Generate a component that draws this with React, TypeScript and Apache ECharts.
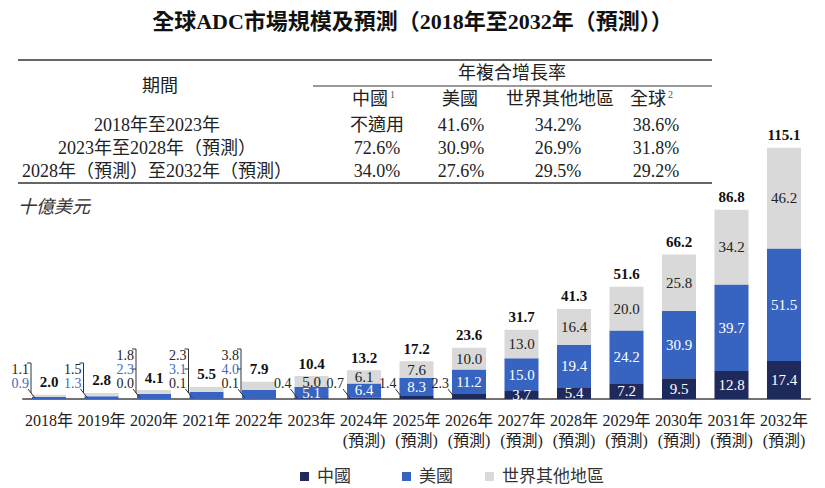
import React, { useEffect, useRef } from 'react';
import * as echarts from 'echarts';

const FONT = "'Liberation Serif', 'Noto Sans CJK TC', serif";

const titleText = '全球ADC市場規模及預測（2018年至2032年（預測））';
const unitText = '十億美元';

const years = ['2018年', '2019年', '2020年', '2021年', '2022年', '2023年', '2024年', '2025年', '2026年', '2027年', '2028年', '2029年', '2030年', '2031年', '2032年'];
const isForecast = [false, false, false, false, false, false, true, true, true, true, true, true, true, true, true];
const forecastTag = '(預測)';

const seriesNames = ['中國', '美國', '世界其他地區'];
const china: (number | null)[] = [null, null, 0.0, 0.1, 0.1, 0.4, 0.7, 1.4, 2.3, 3.7, 5.4, 7.2, 9.5, 12.8, 17.4];
const usa = [0.9, 1.3, 2.3, 3.1, 4.0, 5.1, 6.4, 8.3, 11.2, 15.0, 19.4, 24.2, 30.9, 39.7, 51.5];
const rest = [1.1, 1.5, 1.8, 2.3, 3.8, 5.0, 6.1, 7.6, 10.0, 13.0, 16.4, 20.0, 25.8, 34.2, 46.2];
const totals = [2.0, 2.8, 4.1, 5.5, 7.9, 10.4, 13.2, 17.2, 23.6, 31.7, 41.3, 51.6, 66.2, 86.8, 115.1];

const tableGroupHeader = '年複合增長率';
const tablePeriodHeader = '期間';
const tableColHeaders = ['中國', '美國', '世界其他地區', '全球'];
const tableColNotes = ['1', '', '', '2'];
const tablePeriods = ['2018年至2023年', '2023年至2028年（預測）', '2028年（預測）至2032年（預測）'];
const cagrChina = ['不適用', '72.6%', '34.0%'];
const cagrUS = ['41.6%', '30.9%', '27.6%'];
const cagrRest = ['34.2%', '26.9%', '29.5%'];
const cagrGlobal = ['38.6%', '31.8%', '29.2%'];

const C_CHINA = '#1f2a5c';
const C_US = '#3764c0';
const C_REST = '#d9d9d9';
const C_US_TEXT = '#3f6bbf';
const C_TEXT = '#222222';

const fmt = (v: number | null) => (v == null ? '' : v.toFixed(1));

function buildTable(): any[] {
  const els: any[] = [];
  const txt = (x: number, y: number, text: string, size = 18, align = 'center', extra: any = {}) => ({
    type: 'text',
    x,
    y,
    silent: true,
    style: {
      text,
      fill: C_TEXT,
      font: `${size}px ${FONT}`,
      align,
      verticalAlign: 'middle',
      textAlign: align,
      textVerticalAlign: 'middle',
      ...extra,
    },
  });
  const line = (x1: number, y1: number, x2: number, y2: number, stroke = '#333', w = 1.5) => ({
    type: 'line',
    silent: true,
    shape: { x1, y1, x2, y2 },
    style: { stroke, lineWidth: w },
  });
  els.push(line(18, 60, 712, 60));
  els.push(line(313, 86, 712, 86, '#777', 1.5));
  els.push(line(18, 183, 712, 183));
  els.push(txt(160, 86, tablePeriodHeader));
  els.push(txt(512, 73, tableGroupHeader));
  const headX = [370, 460, 560, 648];
  tableColHeaders.forEach((h, k) => {
    els.push(txt(headX[k], 99, h));
    if (tableColNotes[k]) {
      const w = h.length * 18;
      els.push(txt(headX[k] + w / 2 + 2, 94, tableColNotes[k], 10, 'left', { fill: '#555' }));
    }
  });
  const rowY = [125, 148, 171];
  const colX = [377, 461, 558, 656];
  tablePeriods.forEach((p, r) => {
    els.push(txt(157, rowY[r], p));
    [cagrChina, cagrUS, cagrRest, cagrGlobal].forEach((col, c) => {
      els.push(txt(colX[c], rowY[r], col[r]));
    });
  });
  els.push(txt(18, 207, unitText, 18, 'left', { font: `italic 18px ${FONT}`, fill: '#333' }));
  return els;
}

export default function App() {
  const ref = useRef<HTMLDivElement>(null);
  useEffect(() => {
    if (!ref.current) return;
    const chart = echarts.init(ref.current, undefined, { renderer: 'svg' });
    const labelFont = { fontFamily: FONT, fontSize: 15 };

    const leaderData = years
      .map((_, i) => [i, 0])
      .filter((d) => totals[d[0]] < 10 || ((china[d[0]] ?? 0) < 3 && (china[d[0]] ?? 0) > 0));

    const option: any = {
      animation: false,
      backgroundColor: '#ffffff',
      title: {
        text: titleText,
        left: 'center',
        top: 5,
        textStyle: { fontFamily: FONT, fontSize: 22, fontWeight: 'bold', color: '#111' },
      },
      legend: seriesNames.map((n, k) => ({
        data: [n],
        left: [295, 397, 480][k],
        top: 463,
        icon: 'rect',
        itemWidth: 9,
        itemHeight: 9,
        textStyle: { fontFamily: FONT, fontSize: 17, color: '#333', padding: [0, 0, 0, 3] },
        selectedMode: false,
      })),
      grid: { left: 22.75, right: 14.75, top: 137, bottom: 89 },
      xAxis: {
        type: 'category',
        data: years,
        axisLine: { lineStyle: { color: '#444', width: 1.5 } },
        axisTick: { show: false },
        axisLabel: {
          interval: 0,
          margin: 11,
          fontFamily: FONT,
          fontSize: 16,
          lineHeight: 20,
          color: C_TEXT,
          formatter: (v: string, i: number) => (isForecast[i] ? `${v}\n${forecastTag}` : v),
        },
      },
      yAxis: { type: 'value', min: 0, max: 120, show: false },
      series: [
        {
          name: seriesNames[0],
          type: 'bar',
          stack: 'm',
          barWidth: 34,
          barGap: '-100%',
          data: china,
          itemStyle: { color: C_CHINA },
          label: {
            show: true,
            position: 'inside',
            color: '#fff',
            ...labelFont,
            formatter: (p: any) => (p.dataIndex >= 9 ? fmt(p.value) : ''),
          },
        },
        {
          name: seriesNames[1],
          type: 'bar',
          stack: 'm',
          barWidth: 34,
          barGap: '-100%',
          data: usa,
          itemStyle: { color: C_US },
          label: {
            show: true,
            position: 'inside',
            color: '#fff',
            ...labelFont,
            formatter: (p: any) => (totals[p.dataIndex] >= 10 ? fmt(p.value) : ''),
          },
        },
        {
          name: seriesNames[2],
          type: 'bar',
          stack: 'm',
          barWidth: 34,
          barGap: '-100%',
          data: rest,
          itemStyle: { color: C_REST },
          label: {
            show: true,
            position: 'inside',
            color: C_TEXT,
            ...labelFont,
            formatter: (p: any) => (totals[p.dataIndex] >= 10 ? fmt(p.value) : ''),
          },
        },
        {
          name: '合計',
          type: 'bar',
          barWidth: 34,
          barGap: '-100%',
          z: 1,
          data: totals,
          itemStyle: { color: 'rgba(0,0,0,0)' },
          label: {
            show: true,
            position: 'top',
            distance: 5,
            color: '#111',
            fontWeight: 'bold',
            ...labelFont,
            formatter: (p: any) => fmt(p.value),
          },
        },
        {
          name: 'leaders',
          type: 'custom',
          z: 5,
          silent: true,
          encode: { x: 0, y: 1 },
          data: leaderData,
          renderItem: (_params: any, api: any) => {
            const i = api.value(0);
            const pt = api.coord([i, 0]);
            const cx = pt[0];
            const y0 = pt[1];
            const font = `14px ${FONT}`;
            const ls = { stroke: '#333', lineWidth: 1 };
            const labels: { t: string; c: string }[] = [];
            if (totals[i] < 10) {
              labels.push({ t: fmt(rest[i]), c: C_TEXT });
              labels.push({ t: fmt(usa[i]), c: C_US_TEXT });
              if (china[i] != null) labels.push({ t: fmt(china[i]), c: C_TEXT });
            } else {
              labels.push({ t: fmt(china[i]), c: C_TEXT });
            }
            const n = labels.length;
            const rightX = cx - 20;
            const bottomY = y0 - 16;
            const step = 14;
            const children: any[] = [];
            labels.forEach((l, k) => {
              const y = bottomY - (n - 1 - k) * step;
              children.push({
                type: 'text',
                style: {
                  text: l.t,
                  x: rightX,
                  y,
                  fill: l.c,
                  font,
                  align: 'right',
                  verticalAlign: 'middle',
                  textAlign: 'right',
                  textVerticalAlign: 'middle',
                },
              });
            });
            children.push({ type: 'line', shape: { x1: cx - 21, y1: y0 - 10, x2: cx - 14, y2: y0 - 1 }, style: ls });
            if (n > 1) {
              const bx = cx - 18;
              const topY = bottomY - (n - 1) * step - 6;
              children.push({ type: 'line', shape: { x1: bx, y1: topY, x2: bx, y2: y0 - 6 }, style: ls });
              children.push({ type: 'line', shape: { x1: bx - 4, y1: topY, x2: bx, y2: topY }, style: ls });
              for (let k = 1; k < n - 1; k++) {
                const y = bottomY - (n - 1 - k) * step;
                children.push({ type: 'line', shape: { x1: bx - 4, y1: y, x2: bx, y2: y }, style: ls });
              }
            }
            return { type: 'group', children };
          },
        },
      ],
      graphic: buildTable(),
    };
    chart.setOption(option);
    return () => chart.dispose();
  }, []);
  return <div ref={ref} style={{ position: 'fixed', left: 0, top: 0, width: 825, height: 488 }} />;
}
